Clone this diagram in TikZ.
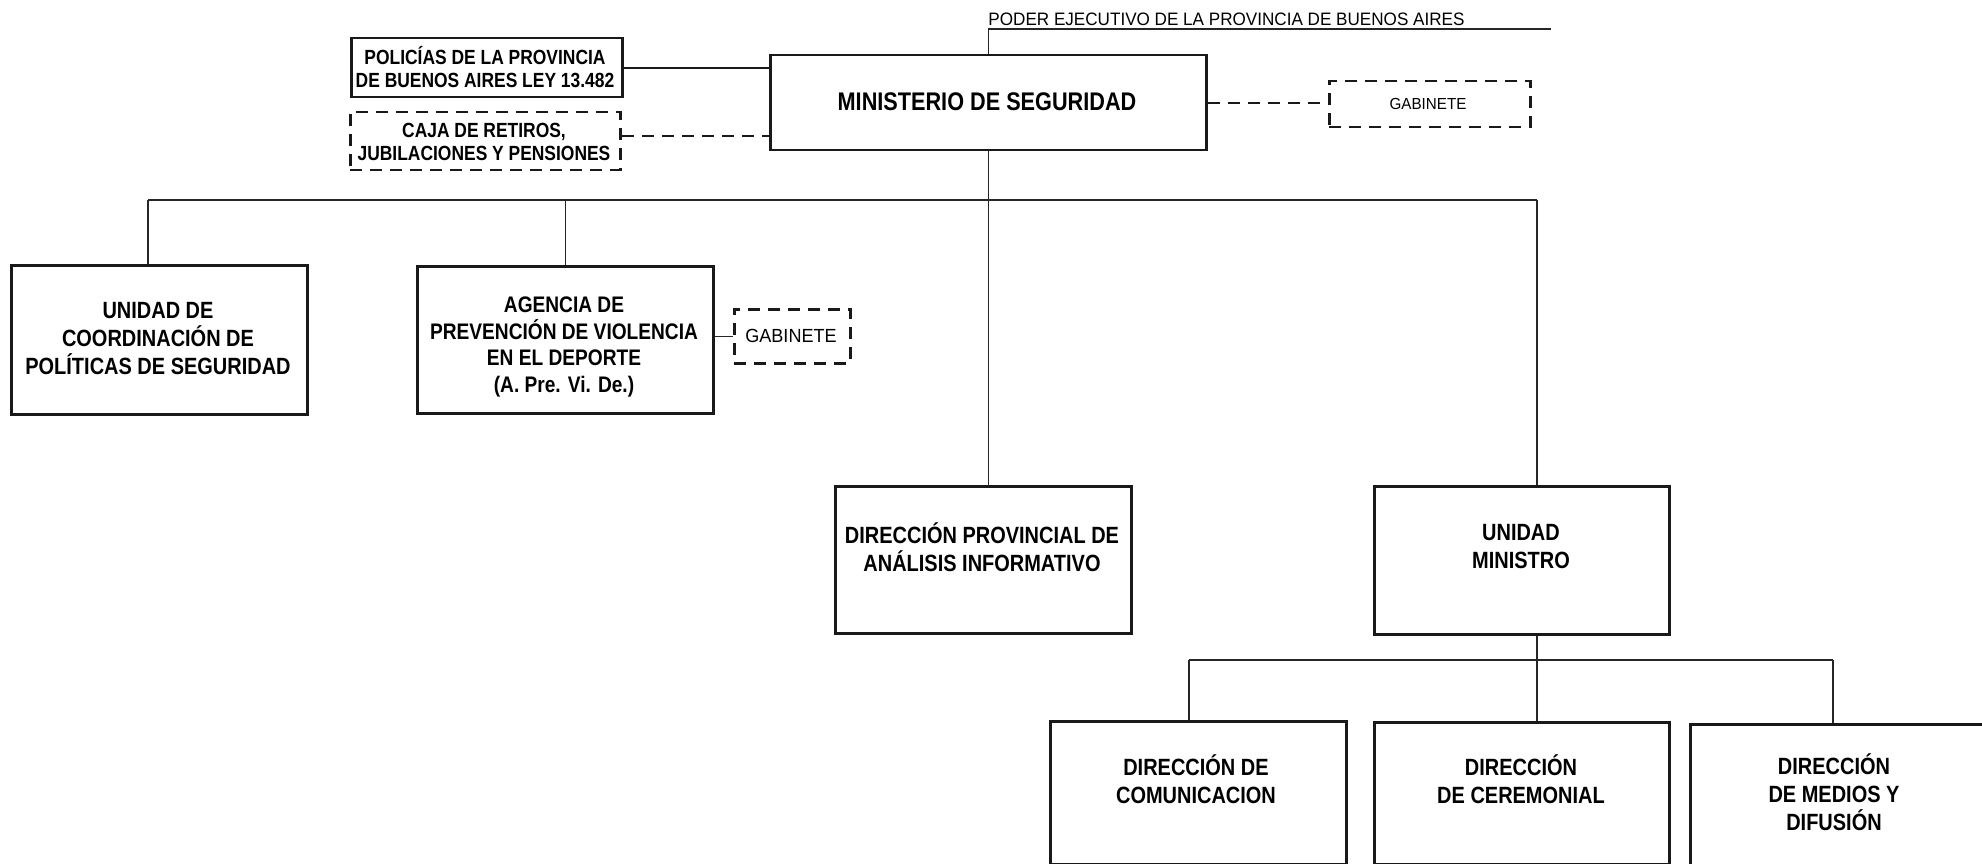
\documentclass[tikz,border=0pt]{standalone}
\usepackage{fontspec}
\setmainfont{Liberation Sans}[FakeStretch=0.85]
\newfontfamily\regfont{Liberation Sans}[FakeStretch=0.95]
\begin{document}
\begin{tikzpicture}[x=1pt,y=-1pt,
  box/.style={draw=black!90,line width=2.5pt,rectangle,anchor=north west,inner sep=0pt},
  dbox/.style={box,dashed,dash pattern=on 12pt off 8pt},
  conn/.style={draw=black!85,line width=1.1pt},
  dconn/.style={draw=black!90,line width=2.2pt,dash pattern=on 12pt off 8pt},
  sconn/.style={draw=black!90,line width=2.2pt},
  txt/.style={align=center,inner sep=0pt,font=\bfseries\fontsize{23.5}{28}\selectfont},
  stxt/.style={align=center,inner sep=0pt,font=\bfseries\fontsize{20.5}{23}\selectfont},
  rtxt/.style={inner sep=0pt}
]
\useasboundingbox (0,0) rectangle (1982,864);

% boxes
\node[box,minimum width=271pt,minimum height=59pt] (pol) at (350,37) {};
\node[dbox,minimum width=270pt,minimum height=58pt] (caja) at (349,111) {};
\node[box,minimum width=436pt,minimum height=95pt] (min) at (769,54) {};
\node[dbox,minimum width=201pt,minimum height=46pt] (gab1) at (1328,80) {};
\node[box,minimum width=296pt,minimum height=149pt] (ucps) at (10,264) {};
\node[box,minimum width=296pt,minimum height=147pt] (apvd) at (416,265) {};
\node[dbox,minimum width=116pt,minimum height=54pt] (gab2) at (733,308) {};
\node[box,minimum width=296pt,minimum height=147pt] (dpai) at (834,485) {};
\node[box,minimum width=295pt,minimum height=148pt] (um) at (1373,485) {};
\node[box,minimum width=296pt,minimum height=143pt] (dc) at (1049,720) {};
\node[box,minimum width=295pt,minimum height=142pt] (dcer) at (1373,721) {};
\node[box,minimum width=296pt,minimum height=142pt] (dmd) at (1689,723) {};

% texts
\node[txt,font=\bfseries\fontsize{25.5}{28}\selectfont] (min-t) at (987,102) {MINISTERIO DE SEGURIDAD};
\node[stxt] (pol-t) at (485,67.5) {POLICÍAS DE LA PROVINCIA\\DE BUENOS AIRES LEY 13.482};
\node[stxt] (caja-t) at (484,141.5) {CAJA DE RETIROS,\\JUBILACIONES Y PENSIONES};
\node[rtxt,font=\regfont\fontsize{16}{20}\selectfont] (gab1-t) at (1428,104) {GABINETE};
\node[txt] (ucps-t) at (158,339) {UNIDAD DE\\COORDINACIÓN DE\\POLÍTICAS DE SEGURIDAD};
\node[txt,font=\bfseries\fontsize{22.5}{26.8}\selectfont] (apvd-t) at (564,347) {AGENCIA DE\\PREVENCIÓN DE VIOLENCIA\\EN EL DEPORTE\\(A. Pre. Vi. De.)};
\node[rtxt,font=\regfont\fontsize{19}{22}\selectfont] (gab2-t) at (791,336) {GABINETE};
\node[txt] (dpai-t) at (982,547) {DIRECCIÓN PROVINCIAL DE\\ANÁLISIS INFORMATIVO};
\node[txt] (um-t) at (1521,547) {UNIDAD\\MINISTRO};
\node[txt] (dc-t) at (1196,779) {DIRECCIÓN DE\\COMUNICACION};
\node[txt] (dcer-t) at (1521,779) {DIRECCIÓN\\DE CEREMONIAL};
\node[txt] (dmd-t) at (1834,792) {DIRECCIÓN\\DE MEDIOS Y\\DIFUSIÓN};

% poder ejecutivo
\coordinate (peR) at (1551,29);
\coordinate (peL) at (min.north |- peR);
\node[rtxt,anchor=south west,font=\regfont\fontsize{18}{20}\selectfont] (pe-t) at ([yshift=3pt]peL) {PODER EJECUTIVO DE LA PROVINCIA DE BUENOS AIRES};
\draw[conn] (min.north) -- (peL) -- (peR);

% side connectors
\draw[sconn] (pol.east) -- (pol.east -| min.west);
\draw[dconn] ([yshift=5pt]caja.east) -- ([yshift=5pt]caja.east -| min.west);
\draw[dconn] (min.east) -- (min.east -| gab1.west);

% main bus
\coordinate (busL) at (148,200);
\coordinate (busR) at (1537,200);
\draw[conn] (busL) -- (busR);
\draw[conn] (min.south) -- (min.south |- dpai.north);
\draw[conn] (busL) -- (busL |- ucps.north);
\draw[conn] (apvd.north) -- (apvd.north |- busL);
\draw[conn] (busR) -- (busR |- um.north);
\draw[conn] (apvd.east |- gab2.west) -- (gab2.west);

% sub bus
\coordinate (subL) at (1189,660);
\coordinate (subR) at (1833,660);
\coordinate (subM) at (1537,660);
\draw[conn] (subL) -- (subR);
\draw[conn] (um.south -| subM) -- (subM) -- (subM |- dcer.north);
\draw[conn] (subL) -- (subL |- dc.north);
\draw[conn] (subR) -- (subR |- dmd.north);
\end{tikzpicture}
\end{document}
